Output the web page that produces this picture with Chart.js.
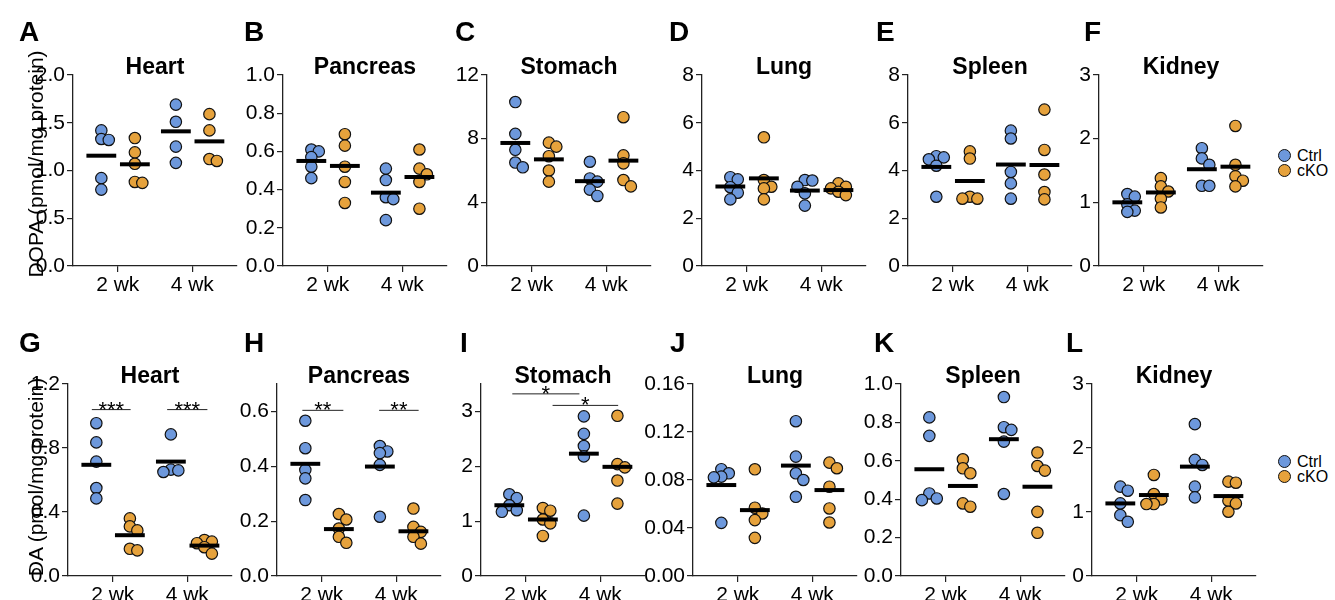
<!DOCTYPE html>
<html>
<head>
<meta charset="utf-8">
<title>DOPA and DA by organ</title>
<script src="https://cdn.jsdelivr.net/npm/chart.js@4.4.1/dist/chart.umd.min.js"></script>
<style>
    body { margin: 0; background: #fff; font-family: 'Liberation Sans', Arial, sans-serif; }
    #fig { position: relative; width: 1335px; height: 600px; overflow: hidden; }
    #fig canvas { position: absolute; }
    .letter { position: absolute; font-weight: bold; font-size: 28px; line-height: 28px; color: #000; }
    .ytitle { position: absolute; font-size: 21px; white-space: nowrap; color: #000;
              transform: translate(-50%, -50%) rotate(-90deg); }
    .legend { position: absolute; font-size: 16px; line-height: 15px; color: #000; }
    .legend div { display: flex; align-items: center; }
    .legend span.dot { display: inline-block; width: 11px; height: 11px; border-radius: 50%;
                       border: 1.2px solid #111; margin-right: 6px; }
</style>
</head>
<body>
<div id="fig"></div>
<script>
const weeks = ['2 wk', '4 wk']
const groups = ['Ctrl', 'cKO']
const organs = ['Heart', 'Pancreas', 'Stomach', 'Lung', 'Spleen', 'Kidney']

// DOPA (pmol/mg protein), per organ: [2 wk values, 4 wk values]
const dopaCtrl = [
    [[1.42, 1.33, 1.32, 0.92, 0.80], [1.69, 1.51, 1.25, 1.08]],
    [[0.61, 0.60, 0.57, 0.52, 0.46], [0.51, 0.45, 0.36, 0.35, 0.24]],
    [[10.3, 8.3, 7.3, 6.5, 6.2], [6.55, 5.5, 5.3, 4.8, 4.4]],
    [[3.72, 3.63, 3.3, 3.07, 2.79], [3.6, 3.58, 3.32, 3.04, 2.53]],
    [[4.6, 4.55, 4.47, 4.2, 2.9], [5.67, 5.34, 3.94, 3.46, 2.82]],
    [[1.13, 1.09, 0.97, 0.87, 0.85], [1.85, 1.69, 1.59, 1.26, 1.26]],
]
const dopaCko = [
    [[1.34, 1.19, 1.07, 0.88, 0.87], [1.59, 1.42, 1.12, 1.10]],
    [[0.69, 0.63, 0.52, 0.44, 0.33], [0.61, 0.51, 0.48, 0.44, 0.30]],
    [[7.75, 7.5, 6.9, 6.0, 5.3], [9.35, 6.95, 6.45, 5.4, 5.0]],
    [[5.39, 3.6, 3.32, 3.25, 2.79], [3.46, 3.32, 3.25, 3.11, 2.97]],
    [[4.8, 4.5, 2.9, 2.82, 2.82], [6.55, 4.86, 3.83, 3.1, 2.79]],
    [[1.38, 1.25, 1.17, 1.06, 0.92], [2.2, 1.59, 1.41, 1.34, 1.25]],
]
const dopaCtrlMean = [[1.155, 1.41], [0.55, 0.384], [7.73, 5.33], [3.33, 3.16], [4.15, 4.25], [1.0, 1.52]]
const dopaCkoMean = [[1.065, 1.305], [0.524, 0.466], [6.70, 6.62], [3.67, 3.18], [3.56, 4.23], [1.155, 1.56]]

// DA (pmol/mg protein)
const daCtrl = [
    [[0.955, 0.835, 0.715, 0.55, 0.485], [0.885, 0.665, 0.66, 0.65]],
    [[0.566, 0.466, 0.387, 0.356, 0.277], [0.474, 0.454, 0.448, 0.405, 0.216]],
    [[1.49, 1.42, 1.29, 1.2, 1.17], [2.91, 2.59, 2.37, 2.18, 1.1]],
    [[0.089, 0.0856, 0.0828, 0.0822, 0.0443], [0.129, 0.0995, 0.0856, 0.08, 0.066]],
    [[0.826, 0.73, 0.43, 0.404, 0.395], [0.932, 0.775, 0.761, 0.70, 0.427]],
    [[1.396, 1.333, 1.134, 0.951, 0.847], [2.373, 1.814, 1.735, 1.396, 1.228]],
]
const daCko = [
    [[0.36, 0.31, 0.285, 0.17, 0.16], [0.225, 0.215, 0.205, 0.18, 0.14]],
    [[0.226, 0.206, 0.173, 0.143, 0.121], [0.246, 0.179, 0.161, 0.143, 0.118]],
    [[1.24, 1.19, 1.03, 0.96, 0.73], [2.92, 2.04, 1.98, 1.74, 1.32]],
    [[0.0889, 0.0569, 0.0521, 0.0466, 0.0318], [0.0945, 0.0898, 0.0744, 0.0563, 0.0446]],
    [[0.608, 0.561, 0.535, 0.378, 0.361], [0.643, 0.573, 0.549, 0.334, 0.225]],
    [[1.579, 1.281, 1.197, 1.124, 1.124], [1.474, 1.458, 1.176, 1.134, 1.004]],
]
const daCtrlMean = [[0.695, 0.715], [0.409, 0.399], [1.29, 2.23], [0.0758, 0.092], [0.556, 0.7125], [1.134, 1.709]]
const daCkoMean = [[0.255, 0.19], [0.171, 0.163], [1.03, 1.99], [0.0549, 0.0716], [0.469, 0.465], [1.265, 1.249]]

// y axes
const dopaMax = [2, 1, 12, 8, 8, 3]
const dopaStep = [0.5, 0.2, 4, 2, 2, 1]
const dopaDecimals = [1, 1, 0, 0, 0, 0]
const daMax = [1.2, 0.7, 3.5, 0.16, 1, 3]
const daTickMax = [1.2, 0.6, 3, 0.16, 1, 3]
const daStep = [0.4, 0.2, 1, 0.04, 0.2, 1]
const daDecimals = [1, 1, 0, 2, 1, 0]

// significance brackets (DA row): x in week units, y in data units
const daSig = [
    [{ x1: 0.72, x2: 1.24, y: 1.04, label: '***' }, { x1: 1.73, x2: 2.27, y: 1.04, label: '***' }],
    [{ x1: 0.74, x2: 1.29, y: 0.604, label: '**' }, { x1: 1.77, x2: 2.3, y: 0.604, label: '**' }],
    [{ x1: 0.82, x2: 1.72, y: 3.32, label: '*' }, { x1: 1.36, x2: 2.24, y: 3.11, label: '*' }],
    [], [], [],
]

const BLUE = '#6d98dc'
const ORANGE = '#e6a23c'
const FONT = "'Liberation Sans', Arial, sans-serif"
const Y_W = 60, PAD_T = 45, PAD_R = 12, X_H = 40, PLOT_W = 164
const X_MIN = 0.4, X_MAX = 2.6
const OFFSET = [-0.22, 0.23]   // Ctrl / cKO shift from week centre
const fig = document.getElementById('fig')

// simple beeswarm: shift a point sideways when it would sit on top of another
function swarm(values, centre, pxPerY) {
    const pxPerX = PLOT_W / (X_MAX - X_MIN)
    const placed = []
    const steps = [0, 1, -1, 2, -2, 3, -3]
    return values.map(v => {
        let x = centre
        for (const k of steps) {
            const cx = centre + k * 0.1
            const hit = placed.some(p => Math.hypot((p.x - cx) * pxPerX, (p.y - v) * pxPerY) < 7)
            if (!hit) { x = cx; break }
        }
        const pt = { x, y: v }
        placed.push(pt)
        return pt
    })
}

const panelTitle = {
    id: 'panelTitle',
    afterDraw(chart, args, opts) {
        const { ctx, chartArea, scales } = chart
        ctx.save()
        ctx.fillStyle = '#000'
        ctx.textAlign = 'center'
        ctx.textBaseline = 'middle'
        ctx.font = 'bold 23px ' + FONT
        ctx.fillText(opts.text, (chartArea.left + chartArea.right) / 2, chartArea.top - 7)
        // significance brackets
        ctx.font = '22px ' + FONT
        ctx.textBaseline = 'alphabetic'
        ctx.strokeStyle = '#222'
        ctx.lineWidth = 1
        ;(opts.sig || []).forEach(s => {
            const x1 = scales.x.getPixelForValue(s.x1)
            const x2 = scales.x.getPixelForValue(s.x2)
            const y = scales.y.getPixelForValue(s.y)
            ctx.beginPath()
            ctx.moveTo(x1, y)
            ctx.lineTo(x2, y)
            ctx.stroke()
            ctx.fillText(s.label, (x1 + x2) / 2, y + 7)
        })
        ctx.restore()
    },
}

function makePanel(opts) {
    const canvas = document.createElement('canvas')
    const w = Y_W + PLOT_W + PAD_R
    const h = PAD_T + opts.plotH + X_H
    canvas.width = w
    canvas.height = h
    canvas.style.width = w + 'px'
    canvas.style.height = h + 'px'
    canvas.style.left = (opts.axisX - Y_W) + 'px'
    canvas.style.top = (opts.top - PAD_T) + 'px'
    fig.appendChild(canvas)

    const pxPerY = opts.plotH / opts.yMax
    const datasets = []
    ;[opts.ctrl, opts.cko].forEach((series, g) => {
        const pts = []
        series.forEach((vals, wk) => pts.push(...swarm(vals, wk + 1 + OFFSET[g], pxPerY)))
        datasets.push({
            label: groups[g],
            data: pts,
            backgroundColor: g === 0 ? BLUE : ORANGE,
            borderColor: '#111',
            borderWidth: 1.2,
            pointRadius: 5.7,
            order: 2,
        })
    })
    ;[opts.ctrlMean, opts.ckoMean].forEach((means, g) => {
        means.forEach((m, wk) => {
            const c = wk + 1 + OFFSET[g]
            datasets.push({
                label: groups[g] + ' mean',
                data: [{ x: c - 0.2, y: m }, { x: c + 0.2, y: m }],
                showLine: true,
                borderColor: '#000',
                borderWidth: 4,
                borderCapStyle: 'butt',
                pointRadius: 0,
                order: 0,
            })
        })
    })

    new Chart(canvas, {
        type: 'scatter',
        data: { datasets },
        plugins: [panelTitle],
        options: {
            responsive: false,
            animation: false,
            events: [],
            layout: { padding: { top: PAD_T, right: PAD_R, left: 0, bottom: 0 } },
            plugins: {
                legend: { display: false },
                tooltip: { enabled: false },
                panelTitle: { text: opts.title, sig: opts.sig },
            },
            scales: {
                x: {
                    type: 'linear',
                    min: X_MIN,
                    max: X_MAX,
                    afterBuildTicks: s => { s.ticks = [{ value: 1 }, { value: 2 }] },
                    afterFit: s => { s.height = X_H },
                    ticks: {
                        callback: v => weeks[v - 1],
                        color: '#000',
                        font: { family: FONT, size: 21 },
                        padding: 1,
                        maxRotation: 0,
                        autoSkip: false,
                    },
                    grid: { drawOnChartArea: false, tickLength: 6, color: '#222', lineWidth: 1.2 },
                    border: { color: '#222', width: 1.3 },
                },
                y: {
                    type: 'linear',
                    min: 0,
                    max: opts.yMax,
                    afterBuildTicks: s => { s.ticks = s.ticks.filter(t => t.value <= opts.tickMax + 1e-9) },
                    afterFit: s => { s.width = Y_W },
                    ticks: {
                        stepSize: opts.step,
                        callback: v => Number(v).toFixed(opts.decimals),
                        color: '#000',
                        font: { family: FONT, size: 21 },
                        padding: 2,
                    },
                    grid: { drawOnChartArea: false, tickLength: 6, color: '#222', lineWidth: 1.2 },
                    border: { color: '#222', width: 1.3 },
                },
            },
        },
    })
}

const topAxisX = [73, 283, 487, 702, 908, 1099]
const bottomAxisX = [68, 277, 481, 693, 901, 1092]

organs.forEach((organ, i) => {
    makePanel({
        title: organ, axisX: topAxisX[i], top: 75, plotH: 191,
        ctrl: dopaCtrl[i], cko: dopaCko[i], ctrlMean: dopaCtrlMean[i], ckoMean: dopaCkoMean[i],
        yMax: dopaMax[i], tickMax: dopaMax[i], step: dopaStep[i], decimals: dopaDecimals[i],
    })
    makePanel({
        title: organ, axisX: bottomAxisX[i], top: 384, plotH: 192,
        ctrl: daCtrl[i], cko: daCko[i], ctrlMean: daCtrlMean[i], ckoMean: daCkoMean[i],
        yMax: daMax[i], tickMax: daTickMax[i], step: daStep[i], decimals: daDecimals[i],
        sig: daSig[i],
    })
})

// panel letters, axis titles, legends
const letters = [
    ['A', 19, 18], ['B', 244, 18], ['C', 455, 18], ['D', 669, 18], ['E', 876, 18], ['F', 1084, 18],
    ['G', 19, 329], ['H', 244, 329], ['I', 460, 329], ['J', 670, 329], ['K', 874, 329], ['L', 1066, 329],
]
letters.forEach(([t, x, y]) => {
    const d = document.createElement('div')
    d.className = 'letter'
    d.textContent = t
    d.style.left = x + 'px'
    d.style.top = y + 'px'
    fig.appendChild(d)
})

;[['DOPA (pmol/mg protein)', 36, 164], ['DA (pmol/mg protein)', 36, 477]].forEach(([t, x, y]) => {
    const d = document.createElement('div')
    d.className = 'ytitle'
    d.textContent = t
    d.style.left = x + 'px'
    d.style.top = y + 'px'
    fig.appendChild(d)
})

;[148, 454].forEach(top => {
    const lg = document.createElement('div')
    lg.className = 'legend'
    lg.style.left = '1278px'
    lg.style.top = top + 'px'
    groups.forEach((g, i) => {
        const row = document.createElement('div')
        const dot = document.createElement('span')
        dot.className = 'dot'
        dot.style.background = i === 0 ? BLUE : ORANGE
        row.appendChild(dot)
        row.appendChild(document.createTextNode(g))
        lg.appendChild(row)
    })
    fig.appendChild(lg)
})
</script>
</body>
</html>
